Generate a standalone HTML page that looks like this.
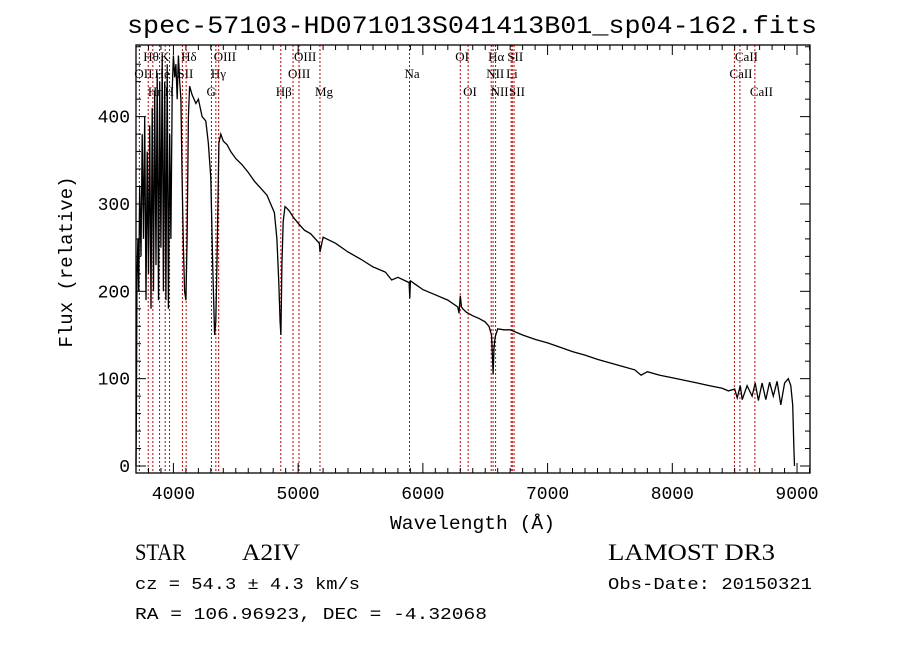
<!DOCTYPE html>
<html><head><meta charset="utf-8"><style>
html,body{margin:0;padding:0;background:#fff;}
svg{display:block;}
text{font-family:"Liberation Serif",serif;fill:#000;}
.mono{font-family:"Liberation Mono",monospace;}
</style></head><body>
<svg id="chart" width="900" height="649" viewBox="0 0 900 649" xmlns="http://www.w3.org/2000/svg">
<rect width="900" height="649" fill="#fff"/>
<text class="mono" x="127" y="33" font-size="25" textLength="690" lengthAdjust="spacingAndGlyphs">spec-57103-HD071013S041413B01_sp04-162.fits</text>
<g id="lines"></g>
<g id="series"></g>
<g id="axes"></g>
<text class="mono" x="390" y="529" font-size="19" textLength="165" lengthAdjust="spacingAndGlyphs">Wavelength (Å)</text>
<text class="mono" x="0" y="0" font-size="19" text-anchor="middle" transform="translate(72,262) rotate(-90)">Flux (relative)</text>
<text x="135" y="560" font-size="23" textLength="51" lengthAdjust="spacingAndGlyphs">STAR</text>
<text x="242" y="560" font-size="23" textLength="58" lengthAdjust="spacingAndGlyphs">A2IV</text>
<text x="608" y="560" font-size="23" textLength="167" lengthAdjust="spacingAndGlyphs">LAMOST DR3</text>
<text class="mono" x="135" y="589" font-size="17" textLength="225" lengthAdjust="spacingAndGlyphs">cz = 54.3 ± 4.3 km/s</text>
<text class="mono" x="608" y="589" font-size="17" textLength="204" lengthAdjust="spacingAndGlyphs">Obs-Date: 20150321</text>
<text class="mono" x="135" y="619" font-size="17" textLength="352" lengthAdjust="spacingAndGlyphs">RA = 106.96923, DEC =  -4.32068</text>
</svg>
<script>
const wavelengths=[3700,3703,3708,3715,3722,3730,3740,3750,3760,3770,3780,3790,3800,3810,3820,3830,3840,3850,3860,3870,3880,3890,3900,3910,3920,3930,3940,3950,3960,3970,3980,3990,4000,4010,4020,4030,4040,4050,4060,4070,4080,4090,4100,4110,4120,4130,4150,4180,4200,4230,4260,4280,4300,4315,4330,4340,4350,4365,4380,4400,4430,4460,4500,4550,4600,4650,4700,4750,4780,4810,4830,4845,4855,4862,4870,4880,4895,4910,4930,4960,5000,5050,5100,5170,5175,5200,5300,5400,5500,5600,5700,5750,5800,5890,5895,5900,5950,6000,6100,6200,6280,6290,6300,6310,6320,6350,6400,6450,6500,6530,6550,6560,6563,6570,6580,6600,6650,6700,6750,6800,6900,7000,7100,7200,7300,7400,7500,7600,7700,7750,7800,7900,8000,8100,8200,8300,8400,8450,8500,8520,8545,8560,8600,8640,8665,8690,8720,8750,8780,8810,8840,8870,8900,8930,8950,8965,8975,8980];
const fluxes=[0,60,220,260,200,320,240,380,260,400,190,360,220,390,180,410,200,430,230,450,190,440,250,470,200,440,190,460,180,380,260,430,470,445,460,420,470,440,420,330,250,200,190,260,400,435,425,415,420,400,395,370,330,230,150,165,240,370,380,372,368,360,352,345,336,326,318,310,300,290,260,210,165,150,230,280,297,295,292,285,278,270,266,255,245,262,255,245,237,228,222,213,216,210,192,212,207,202,196,190,182,175,195,182,180,176,172,169,165,160,150,118,105,135,148,157,156,156,153,150,145,141,136,131,127,122,118,114,110,104,108,104,101,98,95,92,89,86,88,78,92,76,92,80,95,75,95,76,96,80,97,70,95,100,92,70,20,0];
const lineWl=[3727,3798,3835,3889,3934,3969,4072,4102,4305,4340,4363,4861,4959,5007,5175,5893,6300,6363,6548,6563,6583,6708,6717,6731,8498,8542,8662];
const lineLabels=[["OII",1],["Hθ",0],["Hη",2],["He",1],["K",0],["H",2],["SII",1],["Hδ",0],["G",2],["Hγ",1],["OIII",0],["Hβ",2],["OIII",1],["OIII",0],["Mg",2],["Na",1],["OI",0],["OI",2],["NII",1],["Hα",0],["NII",2],["Li",1],["SII",0],["SII",2],["CaII",1],["CaII",0],["CaII",2]];
const xTicks=[4000,5000,6000,7000,8000,9000];
const yTicks=[0,100,200,300,400];

const L=136,R=810,T=45,B=473;
const X0=3700,X1=9104,Y0=-8,Y1=482;
const xs=w=>L+(w-X0)/(X1-X0)*(R-L);
const ys=f=>B-(f-Y0)/(Y1-Y0)*(B-T);
const NS="http://www.w3.org/2000/svg";
function mk(tag,attrs,parent){const e=document.createElementNS(NS,tag);for(const k in attrs)e.setAttribute(k,attrs[k]);parent.appendChild(e);return e;}
const gl=document.getElementById('lines'),gs=document.getElementById('series'),ga=document.getElementById('axes');
const rowY=[61,78,96];
lineWl.forEach((w,i)=>{
  const ln=mk('line',{x1:xs(w),x2:xs(w),y1:T,y2:B,stroke:'#c00000','stroke-width':1,'stroke-dasharray':'2,2'},gl);
  
  
  const t=mk('text',{x:xs(w)-5,y:rowY[lineLabels[i][1]],'font-size':13},gl);
  t.textContent=lineLabels[i][0];
  
  
});
let d='';
wavelengths.forEach((w,i)=>{d+=(i?'L':'M')+xs(w).toFixed(1)+','+ys(fluxes[i]).toFixed(1);});
const p=mk('path',{d:d,fill:'none',stroke:'#000','stroke-width':1.3},gs);


const box=mk('rect',{x:L,y:T,width:R-L,height:B-T,fill:'none',stroke:'#000','stroke-width':1.3},ga);


for(let w=3800;w<=9100;w+=100){
  const major=w%1000===0;const len=major?10:5;
  mk('line',{x1:xs(w),x2:xs(w),y1:B,y2:B-len,stroke:'#000'},ga);
  mk('line',{x1:xs(w),x2:xs(w),y1:T,y2:T+len,stroke:'#000'},ga);
}
xTicks.forEach(w=>{const t=mk('text',{x:xs(w),y:B+26,'font-size':18,'text-anchor':'middle',class:'mono'},ga);t.textContent=w;
  
  });
for(let f=0;f<=480;f+=20){
  const major=f%100===0;const len=major?10:5;
  mk('line',{x1:L,x2:L+len,y1:ys(f),y2:ys(f),stroke:'#000'},ga);
  mk('line',{x1:R,x2:R-len,y1:ys(f),y2:ys(f),stroke:'#000'},ga);
}
yTicks.forEach(f=>{const t=mk('text',{x:L-6,y:ys(f)+6,'font-size':18,'text-anchor':'end',class:'mono'},ga);t.textContent=f;
  
  });
</script>
</body></html>
